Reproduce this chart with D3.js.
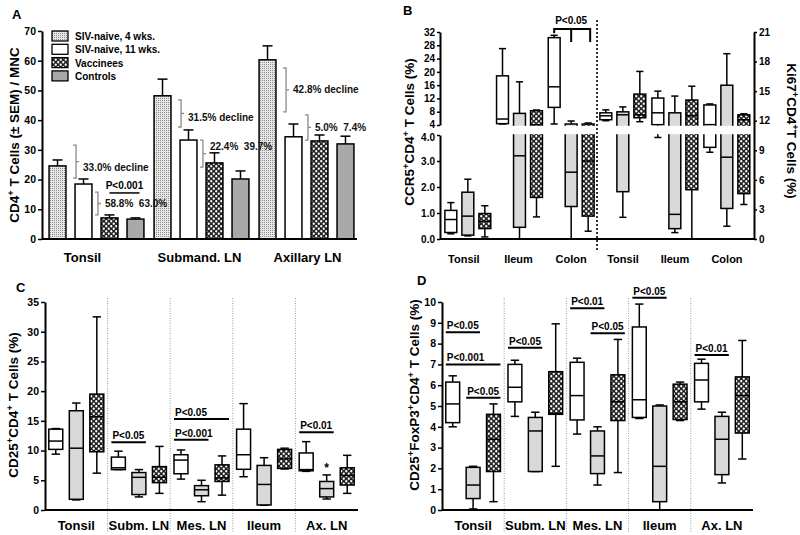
<!DOCTYPE html>
<html>
<head>
<meta charset="utf-8">
<script src="https://cdn.jsdelivr.net/npm/d3@7"></script>
<style>
  body { margin: 0; background: #fff; }
  svg text { font-family: "Liberation Sans", Arial, sans-serif; font-weight: bold; white-space: pre; }
</style>
</head>
<body>
<svg id="fig" width="800" height="535"></svg>
<script>
const FONT = '"Liberation Sans", Arial, sans-serif';

// ---- panel A : bar chart ----
const groupsA = ["Tonsil", "Submand. LN", "Axillary LN"];
const seriesA = ["SIV-naive, 4 wks.", "SIV-naive, 11 wks.", "Vaccinees", "Controls"];
const meanA = [[24.6, 18.5, 7.1, 6.7], [48.2, 33.3, 25.6, 20.2], [60.3, 34.4, 33.0, 32.0]];
const semA = [[2.0, 1.7, 1.0, 0.4], [5.6, 3.4, 3.4, 2.7], [4.7, 4.3, 2.0, 2.6]];
const ticksA = [0, 10, 20, 30, 40, 50, 60, 70];
const bracesA = [
  { g: 0, side: 0, y0: 31.6, y1: 20.5, text: "33.0% decline", ty: 24.2 },
  { g: 0, side: 1, y0: 15.8, y1: 8.1, text: "58.8%  63.0%", ty: 12.1 },
  { g: 1, side: 0, y0: 46.8, y1: 37.7, text: "31.5% decline", ty: 41.0 },
  { g: 1, side: 1, y0: 33.3, y1: 24.2, text: "22.4%  39.7%", ty: 31.0 },
  { g: 2, side: 0, y0: 57.6, y1: 42.8, text: "42.8% decline", ty: 50.2 },
  { g: 2, side: 1, y0: 41.8, y1: 33.3, text: "5.0%  7.4%", ty: 37.4 }
];

// ---- panel B : box plots, CCR5 (left, broken axis) and Ki67 (right) ----
const groupsB = ["Tonsil", "Ileum", "Colon"];
// each box: [min, q1, median, q3, max]
const ccr5 = [
  [[0.2, 0.25, 0.75, 1.1, 1.4], [0.12, 0.15, 0.88, 1.8, 2.3], [0.08, 0.4, 0.68, 0.98, 1.28]],
  [[4.3, 4.4, 5.8, 18.8, 27], [0, 0.45, 3.2, 7.5, 17], [0.85, 1.6, 4.05, 8.3, 8.5]],
  [[4.3, 9.3, 15.5, 30.3, 31], [0, 1.25, 2.57, 4.3, 5.2], [0.3, 0.88, 3.0, 4.3, 4.6]]
];
const ki67 = [
  [[12.0, 12.1, 12.5, 12.8, 13.1], [2.2, 4.8, 12.6, 12.9, 13.4], [11.9, 12.3, 12.6, 14.7, 17.0]],
  [[10.3, 11.6, 12.8, 14.3, 15.0], [0.65, 1.05, 2.5, 12.8, 14.5], [0, 5.0, 12.5, 14.1, 15.5]],
  [[8.8, 9.3, 11.6, 13.6, 13.7], [1.3, 3.1, 8.3, 15.6, 18.8], [3.5, 4.6, 12.1, 12.6, 12.7]]
];
const ticksBHigh = [4, 8, 12, 16, 20, 24, 28, 32];
const ticksBLow = [0, 1, 2, 3, 4];
const ticksBRight = [0, 3, 6, 9, 12, 15, 18, 21];

// ---- panels C and D ----
const groupsCD = ["Tonsil", "Subm. LN", "Mes. LN", "Ileum", "Ax. LN"];
const cd25 = [
  [[9.4, 10.2, 11.6, 13.6, 13.7], [1.7, 1.8, 10.4, 16.7, 18.0], [6.2, 9.8, 15.7, 19.5, 32.5]],
  [[6.8, 6.8, 7.1, 8.9, 9.9], [2.2, 2.6, 5.5, 6.3, 6.8], [2.8, 4.6, 5.5, 7.3, 10.7]],
  [[5.2, 6.1, 8.4, 9.3, 10.1], [1.4, 2.4, 3.4, 4.1, 5.0], [2.5, 4.8, 5.4, 7.6, 9.1]],
  [[5.6, 6.85, 9.3, 13.6, 17.9], [0.8, 0.85, 4.3, 7.5, 8.8], [6.9, 7.0, 8.6, 10.2, 10.4]],
  [[6.5, 6.6, 6.8, 9.6, 11.5], [1.85, 2.2, 3.6, 4.8, 5.9], [2.8, 4.2, 5.8, 7.1, 9.2]]
];
const foxp3 = [
  [[4.0, 4.2, 5.1, 6.15, 6.45], [0.05, 0.55, 1.2, 2.05, 2.1], [0.4, 1.85, 3.4, 4.6, 5.1]],
  [[4.5, 5.2, 5.9, 7.0, 7.2], [1.85, 1.85, 3.8, 4.45, 4.7], [2.1, 4.6, 4.65, 6.65, 8.95]],
  [[3.65, 4.33, 5.5, 7.1, 7.3], [1.2, 1.75, 2.6, 3.8, 4.0], [1.8, 4.3, 5.2, 6.5, 8.2]],
  [[4.4, 4.45, 5.3, 8.8, 9.9], [0, 0.4, 2.1, 5.0, 5.05], [4.3, 4.35, 5.2, 6.05, 6.15]],
  [[4.85, 5.2, 6.25, 7.05, 7.25], [1.3, 1.7, 3.4, 4.5, 4.7], [2.45, 3.7, 5.5, 6.4, 8.15]]
];
const ticksC = [0, 5, 10, 15, 20, 25, 30, 35];
const ticksD = [0, 1, 2, 3, 4, 5, 6, 7, 8, 9, 10];
const pC = [
  { g: 1, a: 0, b: 1, v: 11.4, t: "P<0.05" },
  { g: 2, a: 0, b: 2, v: 15.3, t: "P<0.05" },
  { g: 2, a: 0, b: 1, v: 11.8, t: "P<0.001" },
  { g: 4, a: 0, b: 1, v: 13.1, t: "P<0.01" }
];
const pD = [
  { g: 0, a: 0, b: 1, v: 8.55, t: "P<0.05" },
  { g: 0, a: 0, b: 2, v: 7.0, t: "P<0.001" },
  { g: 0, a: 1, b: 2, v: 5.4, t: "P<0.05" },
  { g: 1, a: 0, b: 1, v: 7.8, t: "P<0.05" },
  { g: 2, a: 0, b: 1, v: 9.7, t: "P<0.01" },
  { g: 2, a: 1, b: 2, v: 8.5, t: "P<0.05" },
  { g: 3, a: 0, b: 1, v: 10.2, t: "P<0.05" },
  { g: 4, a: 0, b: 1, v: 7.45, t: "P<0.01" }
];

const svg = d3.select("#fig");
const defs = svg.append("defs");
const stip = defs.append("pattern").attr("id", "stip")
  .attr("width", 2).attr("height", 2).attr("patternUnits", "userSpaceOnUse");
stip.append("rect").attr("width", 2).attr("height", 2).attr("fill", "#e6e6e6");
stip.append("rect").attr("width", 1).attr("height", 1).attr("fill", "#8e8e8e");
const chk = defs.append("pattern").attr("id", "chk")
  .attr("width", 5).attr("height", 5).attr("patternUnits", "userSpaceOnUse");
chk.append("rect").attr("width", 5).attr("height", 5).attr("fill", "#222");
chk.append("circle").attr("cx", 1.25).attr("cy", 1.25).attr("r", 1.15).attr("fill", "#fff");
chk.append("circle").attr("cx", 3.75).attr("cy", 3.75).attr("r", 1.15).attr("fill", "#fff");

const barFills = ["url(#stip)", "#fff", "url(#chk)", "#a9a9a9"];
const boxFills = ["#fff", "#d9d9d9", "url(#chk)"];

function tidy(g, fs) {
  g.attr("font-family", FONT).attr("font-size", fs || 11).attr("font-weight", "bold");
  g.select(".domain").attr("stroke-width", 2);
  g.selectAll(".tick line").attr("stroke-width", 1.5);
  g.selectAll(".tick text").attr("fill", "#000");
}

function catAxis(g, x, base, fs, baseline, dxs) {
  const a = g.append("g").attr("transform", `translate(0,${base})`)
    .call(d3.axisBottom(x).tickSize(0).tickPadding(baseline - base - 0.71 * fs));
  a.select(".domain").remove();
  tidy(a, fs);
  if (dxs) a.selectAll(".tick text").attr("dx", (d, i) => dxs[i]);
}

function richText(g, x, y, rot, parts, fs) {
  const t = g.append("text").attr("transform", `translate(${x},${y}) rotate(${rot})`)
    .attr("text-anchor", "middle").attr("font-size", fs);
  let cur = 0;
  parts.forEach(p => {
    const sup = p.startsWith("^");
    const target = sup ? -0.4 * fs : 0;
    t.append("tspan").attr("dy", target - cur).attr("font-size", sup ? fs * 0.7 : fs)
      .text(sup ? p.slice(1) : p);
    cur = target;
  });
}

function boxes(g, data, groups, x, inner, y) {
  const bw = inner.bandwidth(), cw = bw * 0.6;
  data.forEach((grp, gi) => grp.forEach((d, si) => {
    const [mn, q1, md, q3, mx] = d;
    const x0 = x(groups[gi]) + inner(si), cx = x0 + bw / 2;
    const b = g.append("g").attr("stroke", "#000").attr("stroke-width", 1.5);
    b.append("line").attr("x1", cx).attr("x2", cx).attr("y1", y(mx)).attr("y2", y(mn));
    b.append("line").attr("x1", cx - cw / 2).attr("x2", cx + cw / 2).attr("y1", y(mx)).attr("y2", y(mx));
    b.append("line").attr("x1", cx - cw / 2).attr("x2", cx + cw / 2).attr("y1", y(mn)).attr("y2", y(mn));
    b.append("rect").attr("x", x0).attr("y", y(q3)).attr("width", bw)
      .attr("height", Math.max(0.5, y(q1) - y(q3))).attr("fill", boxFills[si]);
    b.append("line").attr("x1", x0).attr("x2", x0 + bw).attr("y1", y(md)).attr("y2", y(md));
  }));
}

function pLines(g, list, groups, x, inner, y) {
  const bw = inner.bandwidth();
  list.forEach(p => {
    const x1 = x(groups[p.g]) + inner(p.a), x2 = x(groups[p.g]) + inner(p.b) + bw;
    g.append("line").attr("x1", x1).attr("x2", x2).attr("y1", y(p.v)).attr("y2", y(p.v))
      .attr("stroke", "#000").attr("stroke-width", 2);
    g.append("text").attr("x", x1 + 1).attr("y", y(p.v) - 3).attr("font-size", 10).text(p.t);
  });
}

function separators(g, x, groups, y0, y1, color, dash, w) {
  groups.slice(1).forEach(gr => {
    const sx = x(gr);
    g.append("line").attr("x1", sx).attr("x2", sx).attr("y1", y0).attr("y2", y1)
      .attr("stroke", color).attr("stroke-width", w).attr("stroke-dasharray", dash);
  });
}

// ================= A =================
{
  const g = svg.append("g");
  const x = d3.scaleBand().domain(groupsA).range([44, 359]);
  const inner = d3.scaleBand().domain(d3.range(4)).range([0, x.bandwidth()])
    .paddingInner(0.35).paddingOuter(0.195);
  const y = d3.scaleLinear().domain([0, 70]).range([239, 31]);
  const bw = inner.bandwidth();

  meanA.forEach((row, gi) => row.forEach((m, si) => {
    const x0 = x(groupsA[gi]) + inner(si), cx = x0 + bw / 2, top = m + semA[gi][si];
    g.append("line").attr("x1", cx).attr("x2", cx).attr("y1", y(m)).attr("y2", y(top))
      .attr("stroke", "#000").attr("stroke-width", 1.5);
    g.append("line").attr("x1", cx - 5).attr("x2", cx + 5).attr("y1", y(top)).attr("y2", y(top))
      .attr("stroke", "#000").attr("stroke-width", 1.5);
    g.append("rect").attr("x", x0).attr("y", y(m)).attr("width", bw).attr("height", y(0) - y(m))
      .attr("fill", barFills[si]).attr("stroke", "#000").attr("stroke-width", 1.5);
  }));

  const ya = g.append("g").attr("transform", "translate(42,0)")
    .call(d3.axisLeft(y).tickValues(ticksA).tickSize(4).tickSizeOuter(0).tickPadding(2));
  tidy(ya, 10.5);
  g.append("line").attr("x1", 42).attr("x2", 357).attr("y1", y(0)).attr("y2", y(0))
    .attr("stroke", "#000").attr("stroke-width", 2);
  catAxis(g, x, y(0), 13, 262, [-14, -2, 1]);

  // braces and percentage notes
  bracesA.forEach(b => {
    const bx = b.side === 0 ? x(groupsA[b.g]) + inner(1) + 1 : x(groupsA[b.g]) + inner(1) + bw + 6;
    const ym = (y(b.y0) + y(b.y1)) / 2;
    g.append("path")
      .attr("d", `M${bx - 3},${y(b.y0)}H${bx}V${y(b.y1)}H${bx - 3}M${bx},${ym}H${bx + 3}`)
      .attr("fill", "none").attr("stroke", "#8a8a8a").attr("stroke-width", 1.3);
    g.append("text").attr("x", bx + 7).attr("y", y(b.ty) + 3.5).attr("font-size", 10)
      .attr("fill", "#111").text(b.text);
  });
  // P<0.001 between vaccinees and controls (tonsil)
  const px1 = x(groupsA[0]) + inner(2) + bw / 2, px2 = x(groupsA[0]) + inner(3) + bw / 2 + 4;
  g.append("line").attr("x1", px1).attr("x2", px2).attr("y1", y(15.5)).attr("y2", y(15.5))
    .attr("stroke", "#000").attr("stroke-width", 1.5);
  g.append("text").attr("x", (px1 + px2) / 2).attr("y", y(15.5) - 4).attr("text-anchor", "middle")
    .attr("font-size", 10).text("P<0.001");

  // legend
  const lg = g.append("g").attr("transform", "translate(52,31)");
  seriesA.forEach((s, i) => {
    lg.append("rect").attr("x", 0).attr("y", i * 13.3).attr("width", 16).attr("height", 10)
      .attr("fill", barFills[i]).attr("stroke", "#000").attr("stroke-width", 1.3);
    lg.append("text").attr("x", 23).attr("y", i * 13.3 + 9).attr("font-size", 10).text(s);
  });

  richText(g, 19, 135, -90, ["CD4", "^+", " T Cells (\u00b1 SEM) / MNC"], 13.5);
  g.append("text").attr("x", 12).attr("y", 19).attr("font-size", 13).text("A");
}

// ================= B =================
{
  const g = svg.append("g");
  const xL = d3.scaleBand().domain(groupsB).range([442, 597]);
  const xR = d3.scaleBand().domain(groupsB).range([597, 753]);
  const inner = d3.scaleBand().domain(d3.range(3)).range([0, xL.bandwidth()])
    .paddingInner(0.3).paddingOuter(0.17);
  const yLow = d3.scaleLinear().domain([0, 4]).range([239, 135]);
  const yHigh = d3.scaleLinear().domain([4, 32]).range([125, 32]);
  const yB = v => (v <= 4 ? yLow(v) : yHigh(v));
  const yR = d3.scaleLinear().domain([0, 21]).range([239, 32]);

  boxes(g, ccr5, groupsB, xL, inner, yB);
  boxes(g, ki67, groupsB, xR, inner, yR);

  // break gap
  g.append("rect").attr("x", 442).attr("y", 125.8).attr("width", 310).attr("height", 8.4).attr("fill", "#fff");

  // significance bracket on colon
  const c0 = xL("Colon") + inner(0) + inner.bandwidth() / 2;
  const c1 = xL("Colon") + inner(1) + inner.bandwidth() / 2;
  const c2 = xL("Colon") + inner(2) + inner.bandwidth() / 2;
  g.append("path")
    .attr("d", `M${c0},${yHigh(31.6)}V${yHigh(32.9)}H${c2 + 2}V${yHigh(29)}M${c1},${yHigh(32.9)}V${yHigh(29)}`)
    .attr("fill", "none").attr("stroke", "#000").attr("stroke-width", 2);
  g.append("text").attr("x", c1).attr("y", yHigh(32.9) - 5).attr("text-anchor", "middle")
    .attr("font-size", 10).text("P<0.05");

  const a1 = g.append("g").attr("transform", "translate(440,0)")
    .call(d3.axisLeft(yHigh).tickValues(ticksBHigh).tickSize(3).tickSizeOuter(0).tickPadding(2));
  tidy(a1, 10);
  a1.selectAll(".tick text").filter(d => d === 4).attr("dy", "0.2em");
  const a2 = g.append("g").attr("transform", "translate(440,0)")
    .call(d3.axisLeft(yLow).tickValues(ticksBLow).tickSize(3).tickSizeOuter(0).tickPadding(2));
  tidy(a2, 10);
  a2.selectAll(".tick text").filter(d => d === 4).attr("dy", "0.5em");
  const a3 = g.append("g").attr("transform", "translate(754,0)")
    .call(d3.axisRight(yR).tickValues(ticksBRight).tickSize(3).tickSizeOuter(0).tickPadding(2));
  tidy(a3, 10);
  g.append("line").attr("x1", 440).attr("x2", 754).attr("y1", 239).attr("y2", 239)
    .attr("stroke", "#000").attr("stroke-width", 2);

  g.append("line").attr("x1", 597).attr("x2", 597).attr("y1", 20).attr("y2", 250)
    .attr("stroke", "#000").attr("stroke-width", 1.6).attr("stroke-dasharray", "2,2");

  catAxis(g, xL, 239, 11, 263, [-4, -1, 0]);
  catAxis(g, xR, 239, 11, 263);

  richText(g, 414, 132, -90, ["CCR5", "^+", "CD4", "^+", " T Cells (%)"], 13.5);
  richText(g, 787, 131, 90, ["Ki67", "^+", "CD4", "^+", "T Cells (%)"], 13.5);
  g.append("text").attr("x", 403).attr("y", 15).attr("font-size", 13).text("B");
}

// ================= C & D =================
function panelCD(data, pl, ticks, dom, x0, x1, letter, lx, ly, labelParts, labY) {
  const g = svg.append("g");
  const x = d3.scaleBand().domain(groupsCD).range([x0, x1]);
  const inner = d3.scaleBand().domain(d3.range(3)).range([0, x.bandwidth()])
    .paddingInner(0.32).paddingOuter(0.185);
  const y = d3.scaleLinear().domain(dom).range([510, 302]);

  separators(g, x, groupsCD, 298, 532, "#9a9a9a", "1,1.5", 1);
  boxes(g, data, groupsCD, x, inner, y);
  pLines(g, pl, groupsCD, x, inner, y);

  const ya = g.append("g").attr("transform", `translate(${x0},0)`)
    .call(d3.axisLeft(y).tickValues(ticks).tickSize(4).tickSizeOuter(0).tickPadding(2));
  tidy(ya, 10.5);
  g.append("line").attr("x1", x0).attr("x2", x1).attr("y1", 510).attr("y2", 510)
    .attr("stroke", "#000").attr("stroke-width", 2);
  catAxis(g, x, 510, 13, 530);

  richText(g, lx + 6, labY, -90, labelParts, 13.5);
  g.append("text").attr("x", lx + 4).attr("y", ly).attr("font-size", 13).text(letter);
  return { g, x, inner, y };
}

const C = panelCD(cd25, pC, ticksC, [0, 35], 45, 358, "C", 12, 292,
  ["CD25", "^+", "CD4", "^+", " T Cells (%)"], 405);
{
  const cx = C.x("Ax. LN") + C.inner(1) + C.inner.bandwidth() / 2;
  C.g.append("text").attr("x", cx).attr("y", C.y(7.5) + 7).attr("text-anchor", "middle")
    .attr("font-size", 12).text("*");
}
panelCD(foxp3, pD, ticksD, [0, 10], 442, 753, "D", 413, 285,
  ["CD25", "^+", "FoxP3", "^+", "CD4", "^+", " T Cells (%)"], 395);
</script>
</body>
</html>
